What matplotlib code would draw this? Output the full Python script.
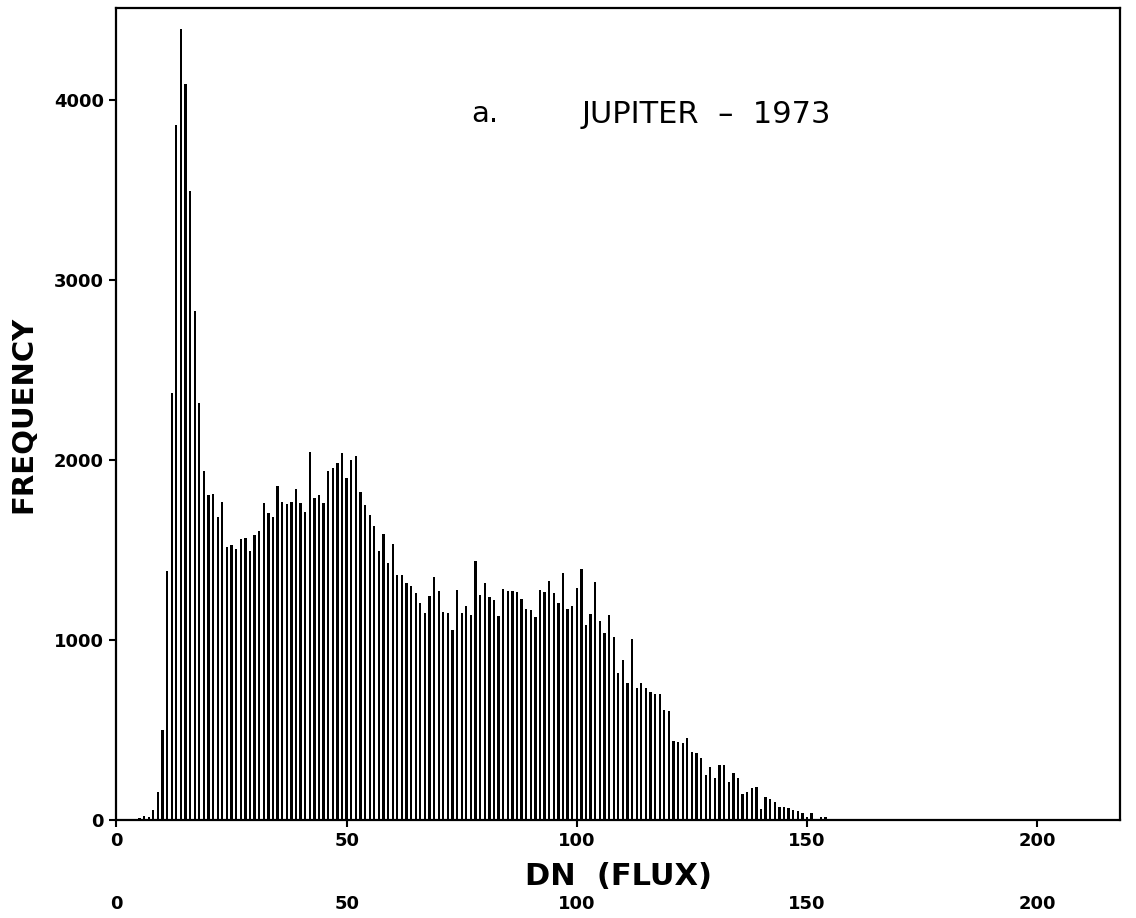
import numpy as np
import matplotlib
matplotlib.use("Agg")
import matplotlib.pyplot as plt

# frequency per DN value (DN 0 .. 160, zero beyond)
freq = [6, 8, 8, 6, 8, 10, 20, 15,
        55, 156, 500, 1384, 2374, 3861, 4394, 4089, 3494, 2829, 2315,
        1939, 1806, 1811, 1683, 1766, 1517, 1528, 1506, 1561, 1565,
        1496, 1583, 1605, 1763, 1704, 1683, 1857, 1766, 1755, 1766,
        1838, 1761, 1713, 2044, 1789, 1804, 1763, 1939, 1957, 1985,
        2041, 1898, 2000, 2022, 1822, 1750, 1694, 1633, 1494, 1589,
        1428, 1533, 1361, 1361, 1315, 1300, 1261, 1206, 1150, 1244,
        1350, 1272, 1156, 1150, 1056, 1278, 1150, 1189, 1139, 1439,
        1250, 1315, 1241, 1222, 1133, 1283, 1272, 1274, 1267, 1230,
        1170, 1167, 1130, 1278, 1265, 1330, 1259, 1207, 1370, 1170,
        1189, 1287, 1393, 1083, 1144, 1322, 1107, 1037, 1139, 1019,
        817, 889, 763, 1004, 733, 763, 731, 713, 700, 700,
        611, 606, 439, 435, 426, 454, 380, 372, 343, 250,
        296, 231, 306, 306, 211, 259, 231, 146, 157, 180,
        185, 59, 130, 115, 98, 74, 74, 67, 54, 52,
        37, 19, 37, 8, 15, 15, 5, 0, 0, 5, 5, 4]
dn = np.arange(len(freq))

xticks = [0, 50, 100, 150, 200]
yticks = [0, 1000, 2000, 3000, 4000]

fig = plt.figure(figsize=(11.36, 9.18), dpi=100)
ax = fig.add_axes([0.1025, 0.1068, 0.8835, 0.8842])

ax.bar(dn, freq, width=0.5, color="black", linewidth=0)

ax.set_xlim(0, 218)
ax.set_ylim(0, 4510)
ax.set_xticks(xticks)
ax.set_yticks(yticks)
ax.tick_params(direction="out", length=5, width=1.5, labelsize=13, pad=4)
for lab in ax.get_xticklabels() + ax.get_yticklabels():
    lab.set_fontweight("bold")
for s in ax.spines.values():
    s.set_linewidth(1.6)

ax.set_xlabel("DN  (FLUX)", fontsize=22, fontweight="bold", labelpad=8)
ax.set_ylabel("FREQUENCY", fontsize=21, fontweight="bold", labelpad=12)

# second row of DN labels under the axis title
sec = ax.secondary_xaxis(-0.087)
sec.set_xticks(xticks)
sec.spines["bottom"].set_visible(False)
sec.tick_params(length=0, labelsize=13)
for lab in sec.get_xticklabels():
    lab.set_fontweight("bold")

ax.text(77, 3920, "a.", fontsize=21, va="center", ha="left")
ax.text(101, 3920, "JUPITER  \u2013  1973", fontsize=22, va="center", ha="left")

fig.savefig("out.png", dpi=100)
